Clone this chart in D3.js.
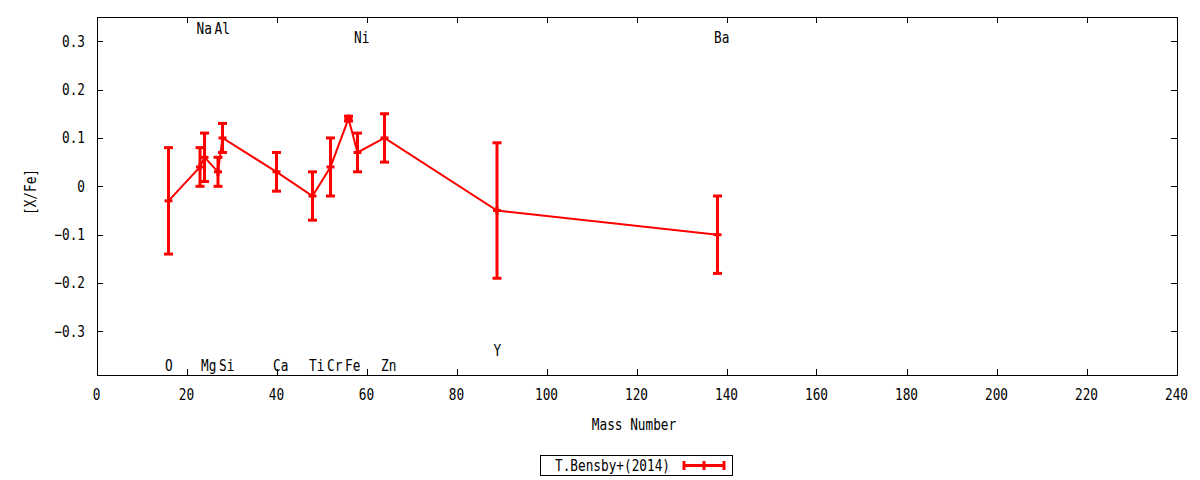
<!DOCTYPE html>
<html>
<head>
<meta charset="utf-8">
<script src="https://cdn.jsdelivr.net/npm/d3@7"></script>
<style>
  body { margin: 0; background: #fff; }
  text { font-family: "DejaVu Sans Mono", monospace; font-size: 15px; fill: #000; }
</style>
</head>
<body>
<svg id="chart" width="1200" height="480"></svg>
<script>
// data
var elements = ["O", "Na", "Mg", "Al", "Si", "Ca", "Ti", "Cr", "Fe", "Ni", "Zn", "Y", "Ba"];
var massNumber = [16, 23, 24, 27, 28, 40, 48, 52, 56, 58, 64, 89, 138];
var xFe = [-0.03, 0.04, 0.06, 0.03, 0.10, 0.03, -0.02, 0.04, 0.14, 0.07, 0.10, -0.05, -0.10];
var xFeErr = [0.11, 0.04, 0.05, 0.03, 0.03, 0.04, 0.05, 0.06, 0.005, 0.04, 0.05, 0.14, 0.08];
// element labels sit at these [X/Fe] heights
var labelY = [-0.37, 0.325, -0.37, 0.325, -0.37, -0.37, -0.37, -0.37, -0.37, 0.307, -0.37, -0.34, 0.307];
var xTicks = [0, 20, 40, 60, 80, 100, 120, 140, 160, 180, 200, 220, 240];
var yTicks = [-0.3, -0.2, -0.1, 0, 0.1, 0.2, 0.3];
var seriesName = "T.Bensby+(2014)";

var svg = d3.select("#chart");
var plotL = 96.5, plotR = 1176.5, plotT = 17, plotB = 375;
var red = "#ff0000";
var sx = 0.85; // squeeze glyphs to look like the narrow gnuplot font

var x = d3.scaleLinear().domain([0, 240]).range([plotL, plotR]);
var y = d3.scaleLinear().domain([-0.39, 0.35]).range([plotB, plotT]);

//draw a squeezed text
function txt(g, px, py, s, anchor, rot) {
    return g.append("text")
        .attr("transform", "translate(" + px + "," + py + ")" + (rot ? " rotate(" + rot + ")" : "") + " scale(" + sx + ",1)")
        .attr("text-anchor", anchor || "middle")
        .attr("dominant-baseline", "central")
        .text(s);
}

//frame
svg.append("rect")
    .attr("x", 97.5).attr("y", plotT + 0.5)
    .attr("width", 1080).attr("height", plotB - plotT)
    .attr("fill", "none").attr("stroke", "#000").attr("stroke-width", 1);

//ticks on all four sides
var ticks = svg.append("g").attr("stroke", "#000").attr("stroke-width", 1);
xTicks.forEach(function(t) {
    var px = Math.round(x(t)) + 0.5;
    ticks.append("line").attr("x1", px).attr("x2", px).attr("y1", plotB).attr("y2", plotB - 6);
    ticks.append("line").attr("x1", px).attr("x2", px).attr("y1", plotT).attr("y2", plotT + 6);
});
yTicks.forEach(function(t) {
    var py = Math.round(y(t)) + 0.5;
    ticks.append("line").attr("x1", 97).attr("x2", 103).attr("y1", py).attr("y2", py);
    ticks.append("line").attr("x1", 1177).attr("x2", 1171).attr("y1", py).attr("y2", py);
});

var labels = svg.append("g");
xTicks.forEach(function(t) {
    txt(labels, x(t), 395, d3.format("d")(t), "middle");
});
yTicks.forEach(function(t) {
    txt(labels, 85, y(t), t === 0 ? "0" : d3.format(".1f")(t), "end");
});
txt(labels, 634, 425, "Mass Number", "middle");
txt(labels, 31, 192, "[X/Fe]", "middle", -90);

//connecting line
var pts = massNumber.map(function(m, i) { return [x(m), y(xFe[i])]; });
svg.append("path")
    .attr("d", d3.line()(pts))
    .attr("fill", "none").attr("stroke", red).attr("stroke-width", 2);

//error bars
var bars = svg.append("g").attr("stroke", red).attr("stroke-width", 3);
massNumber.forEach(function(m, i) {
    var cx = x(m);
    var lo = y(xFe[i] - xFeErr[i]), hi = y(xFe[i] + xFeErr[i]), cy = y(xFe[i]);
    bars.append("line").attr("x1", cx).attr("x2", cx).attr("y1", lo).attr("y2", hi);
    bars.append("line").attr("x1", cx - 4.5).attr("x2", cx + 4.5).attr("y1", lo).attr("y2", lo);
    bars.append("line").attr("x1", cx - 4.5).attr("x2", cx + 4.5).attr("y1", hi).attr("y2", hi);
    bars.append("line").attr("x1", cx - 4).attr("x2", cx + 4).attr("y1", cy).attr("y2", cy);
    bars.append("line").attr("x1", cx).attr("x2", cx).attr("y1", cy - 4).attr("y2", cy + 4);
});

//element names
elements.forEach(function(e, i) {
    txt(labels, x(massNumber[i]) - 3.5, y(labelY[i]), e, "start");
});

//legend
var lg = svg.append("g");
lg.append("rect")
    .attr("x", 540.5).attr("y", 455.5).attr("width", 192).attr("height", 20)
    .attr("fill", "none").attr("stroke", "#000").attr("stroke-width", 1);
txt(lg, 555, 465.5, seriesName, "start");
var ls = lg.append("g").attr("stroke", red).attr("stroke-width", 3);
ls.append("line").attr("x1", 683).attr("x2", 725).attr("y1", 465.5).attr("y2", 465.5);
ls.append("line").attr("x1", 684).attr("x2", 684).attr("y1", 461).attr("y2", 470);
ls.append("line").attr("x1", 724).attr("x2", 724).attr("y1", 461).attr("y2", 470);
ls.append("line").attr("x1", 704).attr("x2", 704).attr("y1", 461).attr("y2", 470);
</script>
</body>
</html>
